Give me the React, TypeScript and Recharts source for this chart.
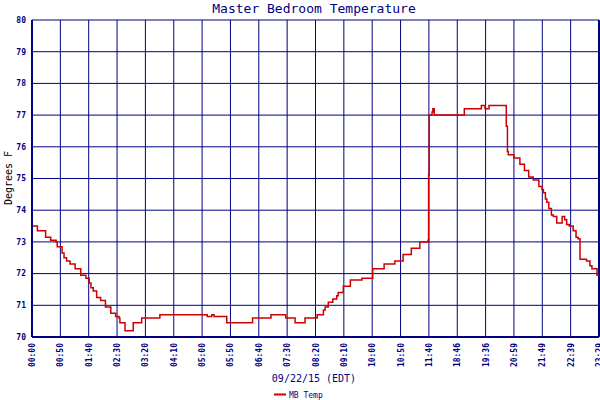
import { LineChart, Line, XAxis, YAxis, CartesianGrid, ReferenceLine } from "recharts";

// sample index where the reading changes (one index = one tick step / 10)
const stepIndex = [
  0, 1.9, 4.8, 6.6, 8.5, 8.9, 10.6, 11.3, 12.2, 13.4, 15.2, 17.2, 19.0, 20.2, 20.8, 21.6,
  22.8, 24.2, 25.9, 27.8, 29.5, 30.7, 31.0, 32.8, 35.7, 38.7, 45.1, 61.8, 63.4, 64.2,
  68.7, 77.8, 84.3, 89.5, 92.8, 96.3, 100.6, 102.8, 103.4, 104.5, 106.1, 107.5, 108.0,
  109.8, 112.3, 116.4, 120.2, 124.2, 128.0, 130.9, 133.8, 136.8, 139.7, 139.9, 140.1,
  141.1, 141.4, 141.9, 152.5, 158.5, 159.8, 161.2, 167.3, 167.7, 168.0, 170.0, 172.1,
  173.7, 175.2, 176.8, 178.8, 179.9, 180.4, 181.1, 181.6, 182.3, 183.2, 183.9, 185.1,
  187.0, 187.9, 188.6, 189.5, 190.9, 191.9, 192.6, 193.3, 195.6, 196.8, 197.5, 199.3, 200,
];

const mbTemp = [
  73.5, 73.35, 73.15, 73.05, 73.0, 72.85, 72.65, 72.5, 72.4, 72.3, 72.15, 71.95, 71.85, 71.7, 71.55, 71.45,
  71.25, 71.15, 70.95, 70.75, 70.65, 70.6, 70.45, 70.2, 70.45, 70.6, 70.7, 70.65, 70.7, 70.65,
  70.45, 70.6, 70.7, 70.6, 70.45, 70.6, 70.7, 70.85, 70.95, 71.1, 71.2, 71.3, 71.4,
  71.6, 71.8, 71.85, 72.15, 72.3, 72.4, 72.6, 72.8, 73.0, 73.05, 75.1, 77.0,
  77.1, 77.2, 77.0, 77.2, 77.3, 77.2, 77.3, 76.65, 75.85, 75.75, 75.65, 75.45,
  75.25, 75.05, 74.95, 74.75, 74.65, 74.55, 74.35, 74.25, 74.05, 73.85, 73.8, 73.6,
  73.8, 73.7, 73.55, 73.5, 73.35, 73.15, 73.1, 72.45, 72.4, 72.25, 72.15, 71.95, 71.95,
];

const timeLabels = [
  "00:00", "00:50", "01:40", "02:30", "03:20", "04:10", "05:00", "05:50", "06:40", "07:30", "08:20",
  "09:10", "10:00", "10:50", "11:40", "18:46", "19:36", "20:59", "21:49", "22:39", "23:29",
];

const xTicks = timeLabels.map((_, i) => i * 10);
const yTicks = [70, 71, 72, 73, 74, 75, 76, 77, 78, 79, 80];

const data = stepIndex.map((i, k) => ({ i, temp: mbTemp[k] }));

const NAVY = "#000080";
const RED = "#cc0000";
const FONT = "'DejaVu Sans Mono', monospace";

function XTick({ x, y, payload }: any) {
  const label = timeLabels[Math.round(payload.value / 10)];
  return (
    <text x={x} y={y} transform={`rotate(-90 ${x} ${y})`} textAnchor="end" dy={3}
      fill={NAVY} fontSize={8} fontWeight="bold" fontFamily={FONT}>
      {label}
    </text>
  );
}

export default function App() {
  return (
    <div style={{ position: "absolute", left: 0, top: 0, width: 600, height: 400, background: "#fff" }}>
      <LineChart width={600} height={400} data={data} margin={{ top: 20, right: 1, bottom: 23, left: 0 }}>
        <CartesianGrid stroke={NAVY} strokeWidth={1} />
        <XAxis dataKey="i" type="number" domain={[0, 200]} ticks={xTicks} interval={0}
          height={40} tickSize={0} tickMargin={6} tick={<XTick />}
          axisLine={{ stroke: NAVY, strokeWidth: 2 }} />
        <YAxis type="number" domain={[70, 80]} ticks={yTicks} interval={0} width={32}
          tickSize={0} tickMargin={6}
          tick={{ fill: NAVY, fontSize: 8, fontWeight: "bold", fontFamily: FONT }}
          axisLine={{ stroke: NAVY, strokeWidth: 2 }} />
        <ReferenceLine x={200} stroke={NAVY} strokeWidth={2} />
        <Line type="stepAfter" dataKey="temp" stroke={RED} strokeWidth={1.5} dot={false}
          isAnimationActive={false} name="MB Temp" />
      </LineChart>
      <svg width={600} height={400} style={{ position: "absolute", left: 0, top: 0, pointerEvents: "none" }}>
        <text x={314} y={13} textAnchor="middle" fill={NAVY} fontSize={13} fontFamily={FONT}>
          Master Bedroom Temperature
        </text>
        <text x={314} y={382} textAnchor="middle" fill={NAVY} fontSize={10} fontFamily={FONT}>
          09/22/15 (EDT)
        </text>
        <text x={12} y={178} transform="rotate(-90 12 178)" textAnchor="middle" fill="#000"
          fontSize={10} fontFamily={FONT}>
          Degrees F
        </text>
        <line x1={274} y1={394.5} x2={286} y2={394.5} stroke={RED} strokeWidth={2} />
        <text x={289} y={397.5} fill={NAVY} fontSize={8} fontFamily={FONT}>MB Temp</text>
      </svg>
    </div>
  );
}
